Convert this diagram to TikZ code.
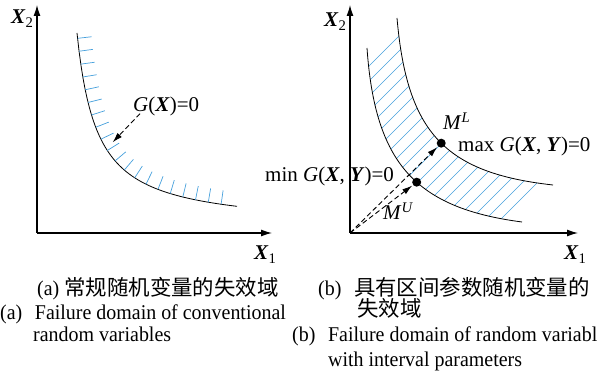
\documentclass[tikz,border=0pt]{standalone}
\usepackage{fontspec}
\setmainfont{Liberation Serif}
\newfontfamily\capfont{Liberation Serif}[FakeStretch=0.95]
\newfontfamily\cjk{Noto Sans CJK SC}[Scale=1.02]
\usepackage{xcolor}
\usetikzlibrary{arrows.meta,calc,positioning,decorations.markings}
\definecolor{hatchblue}{RGB}{70,160,220}
\newcommand{\bX}{\textbf{\textit{X}}}
\newcommand{\bY}{\textbf{\textit{Y}}}

\begin{document}
\begin{tikzpicture}[x=1pt,y=1pt,>=Latex,font=\fontsize{21}{25}\selectfont]
\tikzstyle{axis}=[line width=1.2pt,-{Latex[length=11pt,width=7pt]}]
\tikzstyle{curve}=[line width=0.8pt]
\tikzstyle{hatch}=[hatchblue,line width=0.7pt]
\tikzstyle{lbl}=[inner sep=0pt,anchor=base west]
\tikzstyle{captxt}=[inner sep=0pt,anchor=base west,font=\capfont\fontsize{21}{25}\selectfont]
\tikzstyle{pointer}=[line width=0.9pt,dash pattern=on 5pt off 3pt,shorten >=1pt,-{Latex[length=10pt,width=6pt]}]
\tikzstyle{dot}=[circle,fill,inner sep=0pt,minimum size=9pt]
\useasboundingbox (0,0) rectangle (598,374);

% (a) conventional random variables
\coordinate (oa) at (37,141);
\coordinate (ya) at (37,369);
\coordinate (xa) at (272,141);
\draw[axis] (oa) -- (ya);
\draw[axis] (oa) -- (xa);
\node[lbl] at (11,350) {\bX\textsubscript{2}};
\node[lbl] at (254,114) {\bX\textsubscript{1}};
\draw[curve,postaction={decorate},decoration={markings,
  mark=between positions 0.02 and 0.97 step 13pt with {\draw[hatch] (0,0) -- (0,14);}}]
  plot[domain=40:200,samples=80] ({37+\x},{146+3900/(\x-20)});
\coordinate (ta) at (112,231);
\node[lbl] (ga) at (133,262) {\textit{G}(\bX)=0};
\draw[pointer] ([shift={(7,3)}]ga.south west) -- (ta);

% (b) interval parameters
\coordinate (ob) at (350,141);
\coordinate (yb) at (350,369);
\coordinate (xb) at (578,141);
\begin{scope}
  \clip (397,356) .. controls (407,241) and (445,201) .. (553,189)
    -- (522,152) .. controls (415,166) and (375,211) .. (367,326) -- cycle;
  \foreach \c in {-148,-133,...,137}
    \draw[hatch] (350+\c,141) -- ++(250,250);
\end{scope}
\draw[curve] (397,356) .. controls (407,241) and (445,201) .. (553,189) coordinate[pos=0.52] (ml);
\draw[curve] (367,326) .. controls (375,211) and (415,166) .. (522,152) coordinate[pos=0.56] (mu);
\draw[axis] (ob) -- (yb);
\draw[axis] (ob) -- (xb);
\node[lbl] at (324,347) {\bX\textsubscript{2}};
\node[lbl] at (564,114) {\bX\textsubscript{1}};
\node[dot] (mldot) at (ml) {};
\node[dot] (mudot) at (mu) {};
\draw[pointer] (ob) -- (mldot);
\draw[pointer] (ob) -- (mudot);
\node[lbl] at (443,244) {\textit{M}\textsuperscript{\textit{L}}};
\node[lbl] at (458,222) {max \textit{G}(\bX, \bY)=0};
\node[lbl] at (265,192) {min \textit{G}(\bX, \bY)=0};
\node[lbl] at (383,154) {\textit{M}\textsuperscript{\textit{U}}};

% captions
\node[captxt] at (37,78) {(a) {\cjk 常规随机变量的失效域}};
\node[captxt] at (0,54) {(a)\hspace{0.6em}Failure domain of conventional};
\node[captxt] at (33,32) {random variables};
\node[captxt] at (318,78) {(b)\hspace{0.6em}{\cjk 具有区间参数随机变量的}};
\node[captxt] at (357,57) {\cjk 失效域};
\node[captxt] at (292,32) {(b)\hspace{0.6em}Failure domain of random variabl};
\node[captxt] at (328,7) {with interval parameters};
\end{tikzpicture}
\end{document}
